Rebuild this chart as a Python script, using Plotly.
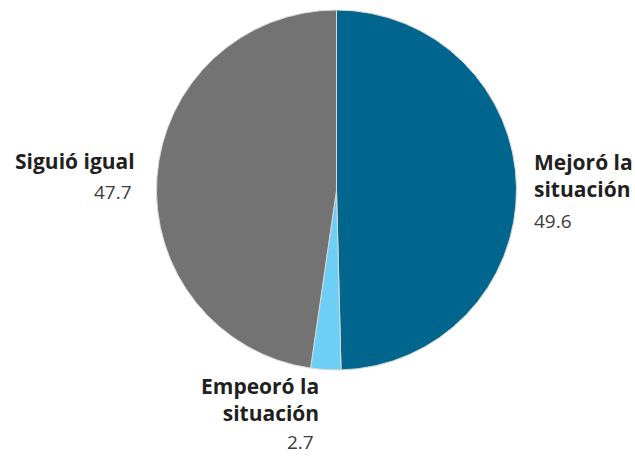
import plotly.graph_objects as go

W, H = 635, 457
categories = ["Mejoró la situación", "Empeoró la situación", "Siguió igual"]
values = [49.6, 2.7, 47.7]
colors = ["#00668E", "#6DCFF6", "#737373"]
value_labels = ["49.6", "2.7", "47.7"]
label_lines = ["Mejoró la<br>situación", "Empeoró la<br>situación", "Siguió igual"]

fig = go.Figure(go.Pie(
    labels=categories, values=values, sort=False, direction="clockwise", rotation=0,
    marker=dict(colors=colors, line=dict(color="#D9D9D9", width=1)),
    textinfo="none", hoverinfo="label+value", showlegend=False,
    domain=dict(x=[156.5 / W, 516.5 / W], y=[1 - 370 / H, 1 - 10 / H]),
))

FONT = "Open Sans"
BOLD_C = "#231F20"
NUM_C = "#3C3C3C"

def px(x):
    return x / W

def py(y):
    return 1 - y / H

def ann(text, x, y, xanchor, size, bold, color, yanchor="middle"):
    fig.add_annotation(
        text=f"<b>{text}</b>" if bold else text,
        x=px(x), y=py(y), xref="paper", yref="paper",
        xanchor=xanchor, yanchor=yanchor, align=xanchor,
        showarrow=False, font=dict(family=FONT, size=size, color=color),
    )

# Siguió igual
ann(label_lines[2], 137, 161, "right", 21, True, BOLD_C)
ann(value_labels[2], 134, 192, "right", 19, False, NUM_C)
# Mejoró la situación
ann(label_lines[0], 532, 175, "left", 21, True, BOLD_C)
ann(value_labels[0], 532, 221, "left", 19, False, NUM_C)
# Empeoró la situación (label + value in one block, anchored at the bottom edge)
ann(f"<b>{label_lines[1]}</b><br><span style='font-size:19px;color:{NUM_C}'>{value_labels[1]}</span>&nbsp;",
    321, 457, "right", 21, False, BOLD_C, yanchor="bottom")

fig.update_layout(
    width=W, height=H, margin=dict(l=0, r=0, t=0, b=0),
    paper_bgcolor="white", plot_bgcolor="white",
)
fig.write_html("out.html")
